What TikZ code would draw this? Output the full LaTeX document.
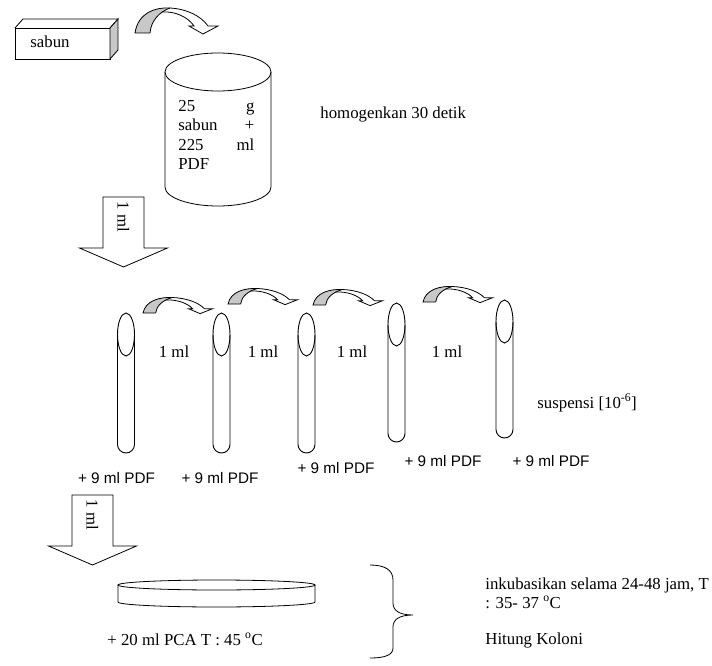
\documentclass[tikz,border=0pt]{standalone}
\usepackage{fontspec}
\setmainfont{Liberation Serif}
\newfontfamily\arialfont{Liberation Sans}
\definecolor{boxgray}{RGB}{200,200,200}

\tikzset{
  txt/.style={inner sep=0pt, font=\fontsize{16.8}{19}\selectfont},
  sanstxt/.style={inner sep=0pt, font=\arialfont\fontsize{15.3}{18}\selectfont},
  curvarrow/.pic={
    \fill[boxgray] (0,0) .. controls (3,-20) and (20,-26) .. (35,-25)
      .. controls (24,-21) and (16,-12) .. (15,0) -- cycle;
    \draw (15,0) -- (0,0) .. controls (3,-20) and (20,-26) .. (35,-25)
      .. controls (52,-24) and (66,-17) .. (73,-7) -- (83,-7) -- (68,1)
      -- (54,-7) -- (59,-7) .. controls (53,-16) and (40,-22) .. (27,-21);
    \draw (15,0) .. controls (16,-12) and (24,-21) .. (35,-25);
  }
}

\begin{document}
\begin{tikzpicture}[x=1pt,y=-1pt,line width=0.8pt]
\useasboundingbox (0,0) rectangle (712,666);

%sabun block
\draw (15,28) rectangle (110,59);
\draw (15,28) -- (23,19) -- (118,19) -- (110,28);
\draw[fill=boxgray] (110,28) -- (118,19) -- (118,50) -- (110,59) -- cycle;
\node[txt, anchor=base west] (sabun) at (30,48) {sabun};

\pic at (135,33) {curvarrow};

%beaker
\def\cx{218}
\def\rx{53}
\draw (\cx,72) ellipse (\rx pt and 19pt);
\draw (\cx-\rx,72) -- (\cx-\rx,187) arc (180:360:\rx pt and 19pt) -- (\cx+\rx,72);
\foreach \l/\r [count=\i from 0] in {25/g, sabun/+, 225/ml, PDF/}{
  \node[txt, anchor=base west] (isi\i) at (178,{112+19*\i}) {\makebox[76pt][s]{\l\hfill\r}};
}
\node[txt, anchor=base west] (homog) at (320,119) {homogenkan 30 detik};

%block arrows
\foreach \x/\y/\nm in {123.5/197/a, 92.5/495/b}{
  \draw[fill=white] (\x-20.5,\y) -- (\x+20.5,\y) -- (\x+20.5,\y+51) -- (\x+44,\y+51)
    -- (\x,\y+70) -- (\x-44,\y+51) -- (\x-20.5,\y+51) -- cycle;
  \node[txt, rotate=-90] (ml\nm) at (\x,\y+20) {1 ml};
}

%tubes
\foreach \x/\t/\b [count=\i] in {126/313/453, 221.5/313/453, 306.5/313/453, 396.5/303/442, 504.5/300/438}{
  \draw[line width=0.9pt] (\x,\t+21.5) ellipse (8.5pt and 21.5pt);
  \draw[line width=0.9pt] (\x-8.5,\t+21.5) -- (\x-8.5,\b-8.5) arc (180:360:8.5pt) -- (\x+8.5,\t+21.5);
}
\foreach \x/\y in {143/313, 228/304, 313/305, 423/302}{
  \pic[xscale=0.84, yscale=0.62] at (\x,\y) {curvarrow};
}
\foreach \x [count=\i] in {174,263,352,447}{
  \node[txt, anchor=base] (mlt\i) at (\x,357) {1 ml};
}
\foreach \x/\y [count=\i] in {116.5/478, 220/478, 336/468, 443/461, 551/461}{
  \node[sanstxt] (pdf\i) at (\x,\y) {+ 9 ml PDF};
}
\node[txt, anchor=base west] (susp) at (537,408) {suspensi [10\textsuperscript{-6}]};

%petri dish
\draw (216.5,585) ellipse (98.5pt and 5pt);
\draw (118,585) -- (118,602) arc (180:360:98.5pt and 5pt) -- (315,585);
\node[txt, anchor=base west] (pca) at (107,645) {+ 20 ml PCA T : 45 \textsuperscript{o}C};

%brace
\draw (370,565) .. controls (385,565) and (393,570) .. (393,580) -- (393,603)
  .. controls (393,611) and (400,615) .. (413,615)
  .. controls (400,615) and (393,619) .. (393,627) -- (393,648)
  .. controls (393,655) and (385,658) .. (370,658);
\node[txt, anchor=base west] (inku1) at (485,589) {inkubasikan selama 24-48 jam, T};
\node[txt, anchor=base west] (inku2) at (485,608) {: 35- 37 \textsuperscript{o}C};
\node[txt, anchor=base west] (hitung) at (485,644) {Hitung Koloni};
\end{tikzpicture}
\end{document}
